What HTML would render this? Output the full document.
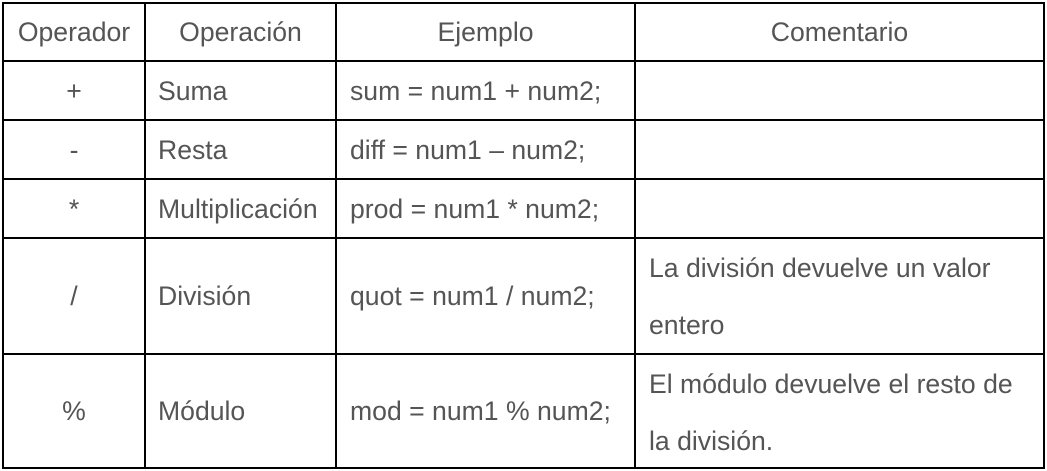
<!DOCTYPE html>
<html><head><meta charset="utf-8"><style>
html,body{margin:0;padding:0;background:#fff;width:1047px;height:471px;overflow:hidden}
body{position:relative;font-family:"Liberation Sans",Arial,sans-serif;font-size:26.6px;color:#555}
.h{position:absolute;height:2px;background:#000;left:2px;width:1043px}
.v{position:absolute;width:2px;background:#000;top:2px;height:467px}
.t{position:absolute;line-height:30px;white-space:nowrap}
.c{text-align:center}
</style></head><body>
<div class="h" style="top:2px"></div>
<div class="h" style="top:60px"></div>
<div class="h" style="top:119px"></div>
<div class="h" style="top:178px"></div>
<div class="h" style="top:237px"></div>
<div class="h" style="top:353px"></div>
<div class="h" style="top:467px"></div>
<div class="v" style="left:2px"></div>
<div class="v" style="left:144px"></div>
<div class="v" style="left:335px"></div>
<div class="v" style="left:634px"></div>
<div class="v" style="left:1043px"></div>

<div class="t c" style="left:4px;width:140px;top:17px">Operador</div>
<div class="t c" style="left:146px;width:189px;top:17px">Operación</div>
<div class="t c" style="left:337px;width:297px;top:17px">Ejemplo</div>
<div class="t c" style="left:636px;width:407px;top:17px">Comentario</div>

<div class="t c" style="left:4px;width:140px;top:76px">+</div>
<div class="t" style="left:158px;top:76px">Suma</div>
<div class="t" style="left:350px;top:76px">sum = num1 + num2;</div>

<div class="t c" style="left:4px;width:140px;top:135px">-</div>
<div class="t" style="left:158px;top:135px">Resta</div>
<div class="t" style="left:350px;top:135px">diff = num1 – num2;</div>

<div class="t c" style="left:4px;width:140px;top:194px">*</div>
<div class="t" style="left:158px;top:194px">Multiplicación</div>
<div class="t" style="left:350px;top:194px">prod = num1 * num2;</div>

<div class="t c" style="left:4px;width:140px;top:281px">/</div>
<div class="t" style="left:158px;top:281px">División</div>
<div class="t" style="left:350px;top:281px">quot = num1 / num2;</div>
<div class="t" style="left:649px;top:253px">La división devuelve un valor</div>
<div class="t" style="left:649px;top:310px">entero</div>

<div class="t c" style="left:4px;width:140px;top:396px">%</div>
<div class="t" style="left:158px;top:396px">Módulo</div>
<div class="t" style="left:350px;top:396px">mod = num1 % num2;</div>
<div class="t" style="left:649px;top:369px">El módulo devuelve el resto de</div>
<div class="t" style="left:649px;top:426px">la división.</div>
</body></html>
